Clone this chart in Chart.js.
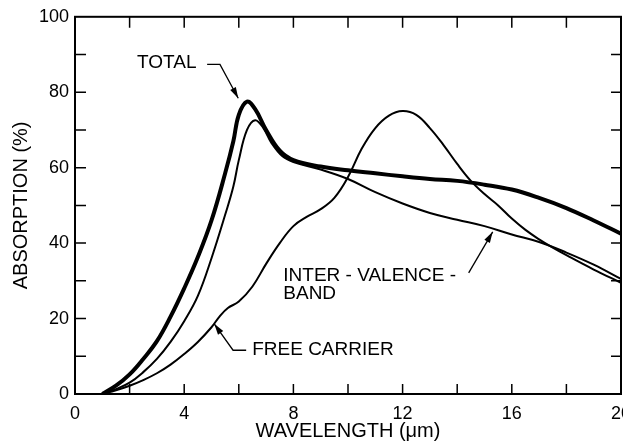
<!DOCTYPE html>
<html>
<head>
<meta charset="utf-8">
<script src="https://cdn.jsdelivr.net/npm/chart.js@4"></script>
<style>
  html, body { margin: 0; padding: 0; background: #fff; }
  #wrap { width: 623px; height: 445px; position: relative; }
</style>
</head>
<body>
<div id="wrap"><canvas id="absChart"></canvas></div>
<script>
// wavelength (um) / absorption (%)
const totalX = [1, 1.5, 2, 2.5, 3, 3.5, 4, 4.5, 5, 5.5, 5.8, 6, 6.3, 6.6, 7, 7.5, 8, 9, 10, 11, 12, 13, 14, 15, 16, 17, 18, 19, 20];
const totalY = [0, 2.2, 5.2, 9.3, 14, 20.5, 28, 36.3, 46, 58.5, 67, 74, 77.5, 75.5, 70, 64.5, 62, 60.3, 59.3, 58.5, 57.7, 57, 56.5, 55.5, 54.2, 52, 49.3, 46, 42.5];

const ivbX = [1, 1.5, 2, 2.5, 3, 3.5, 4, 4.5, 5, 5.5, 5.8, 6, 6.3, 6.6, 6.9, 7.2, 7.6, 8, 9, 10, 11, 12, 13, 14, 15, 16, 17, 18, 19, 20];
const ivbY = [0, 1.3, 3, 5.8, 9.3, 13.8, 19.3, 26, 36, 47.5, 55, 62, 70, 72.6, 70.5, 66.5, 63, 61.5, 59.5, 57, 53.5, 50.5, 48, 46.2, 44.5, 42.3, 40.3, 37.5, 34.3, 30.5];

const fcX = [1, 1.5, 2, 2.5, 3, 3.5, 4, 4.5, 5, 5.3, 5.6, 6, 6.5, 7, 7.5, 8, 8.5, 9, 9.5, 10, 10.5, 11, 11.5, 12, 12.5, 13, 13.5, 14, 14.5, 15, 15.5, 16, 16.5, 17, 17.5, 18, 19, 20];
const fcY = [0, 1.0, 2.2, 3.7, 5.5, 7.8, 10.6, 13.8, 17.7, 20.6, 22.8, 24.5, 28.5, 34.5, 40, 44.5, 47, 49, 52, 57.5, 65, 70.5, 73.8, 75, 74, 70.5, 66, 61, 56.5, 53, 50, 46.5, 43.5, 41, 38.8, 36.8, 33, 29.5];

const xTicks = [0, 4, 8, 12, 16, 20];
const yTicks = [0, 20, 40, 60, 80, 100];

// callout labels, in data units: text lines, text anchor, leader path (last point = arrow tip)
const callouts = [
    { lines: ['TOTAL'], at: [2.27, 87.9], path: [[4.84, 87.4], [5.31, 87.4], [5.98, 78.4]] },
    { lines: ['INTER - VALENCE -', 'BAND'], at: [7.63, 31.3], path: [[14.42, 32.1], [15.3, 43.0]] },
    { lines: ['FREE CARRIER'], at: [6.49, 11.6], path: [[6.27, 11.6], [5.79, 11.6], [5.1, 18.6]] }
];

const FONT = '"Liberation Sans", Arial, Helvetica, sans-serif';

const toPts = (xs, ys) => xs.map((x, i) => ({ x: x, y: ys[i] }));

const frameTicks = {
    id: 'frameTicks',
    afterDatasetsDraw(chart) {
        const c = chart.ctx;
        const xs = chart.scales.x;
        const ys = chart.scales.y;
        const a = chart.chartArea;
        c.save();
        c.strokeStyle = '#000';
        c.lineWidth = 2;
        c.strokeRect(a.left, a.top, a.right - a.left, a.bottom - a.top);

        // inward ticks on all four sides
        c.lineWidth = 1.5;
        c.beginPath();
        for (let v = 2; v < 20; v += 2) {
            const px = xs.getPixelForValue(v);
            c.moveTo(px, a.bottom); c.lineTo(px, a.bottom - 10);
            c.moveTo(px, a.top); c.lineTo(px, a.top + 11);
        }
        for (let v = 10; v < 100; v += 10) {
            const py = ys.getPixelForValue(v);
            c.moveTo(a.left, py); c.lineTo(a.left + 11, py);
            c.moveTo(a.right, py); c.lineTo(a.right - 10, py);
        }
        c.stroke();

        // callouts
        c.fillStyle = '#000';
        c.font = '19px ' + FONT;
        c.textBaseline = 'middle';
        c.textAlign = 'left';
        callouts.forEach(co => {
            const tx = xs.getPixelForValue(co.at[0]);
            const ty = ys.getPixelForValue(co.at[1]);
            co.lines.forEach((t, i) => c.fillText(t, tx, ty + i * 18));

            const pts = co.path.map(p => [xs.getPixelForValue(p[0]), ys.getPixelForValue(p[1])]);
            c.lineWidth = 1.3;
            c.beginPath();
            c.moveTo(pts[0][0], pts[0][1]);
            for (let i = 1; i < pts.length; i++) c.lineTo(pts[i][0], pts[i][1]);
            c.stroke();

            const tip = pts[pts.length - 1];
            const prev = pts[pts.length - 2];
            const ang = Math.atan2(tip[1] - prev[1], tip[0] - prev[0]);
            const len = 11, half = 3.2;
            c.beginPath();
            c.moveTo(tip[0], tip[1]);
            c.lineTo(tip[0] - len * Math.cos(ang) + half * Math.sin(ang), tip[1] - len * Math.sin(ang) - half * Math.cos(ang));
            c.lineTo(tip[0] - len * Math.cos(ang) - half * Math.sin(ang), tip[1] - len * Math.sin(ang) + half * Math.cos(ang));
            c.closePath();
            c.fill();
        });
        c.restore();
    }
};

document.addEventListener('DOMContentLoaded', () => {
    const ctx = document.getElementById('absChart');

    new Chart(ctx, {
        type: 'line',
        data: {
            datasets: [
                {
                    label: 'TOTAL',
                    data: toPts(totalX, totalY),
                    borderColor: '#000',
                    borderWidth: 4,
                    tension: 0.4
                },
                {
                    label: 'INTER-VALENCE-BAND',
                    data: toPts(ivbX, ivbY),
                    borderColor: '#000',
                    borderWidth: 2,
                    tension: 0.4
                },
                {
                    label: 'FREE CARRIER',
                    data: toPts(fcX, fcY),
                    borderColor: '#000',
                    borderWidth: 2,
                    tension: 0.4
                }
            ]
        },
        options: {
            responsive: true,
            maintainAspectRatio: false,
            animation: false,
            layout: { padding: { top: 14, right: 2, left: 0, bottom: 0 } },
            elements: { point: { radius: 0 } },
            scales: {
                x: {
                    type: 'linear',
                    min: 0,
                    max: 20,
                    afterBuildTicks: s => { s.ticks = xTicks.map(v => ({ value: v })); },
                    afterFit: s => { s.height = 51; s.paddingLeft = 0; s.paddingRight = 0; },
                    grid: { display: false, drawTicks: false },
                    border: { display: false },
                    ticks: { color: '#000', padding: 9, maxRotation: 0, font: { family: FONT, size: 18 } },
                    title: {
                        display: true,
                        text: 'WAVELENGTH (\u03bcm)',
                        color: '#000',
                        font: { family: FONT, size: 20 },
                        padding: { top: 0, bottom: 2 }
                    }
                },
                y: {
                    min: 0,
                    max: 100,
                    afterBuildTicks: s => { s.ticks = yTicks.map(v => ({ value: v })); },
                    afterFit: s => { s.width = 75; },
                    grid: { display: false, drawTicks: false },
                    border: { display: false },
                    ticks: { color: '#000', padding: 6, font: { family: FONT, size: 18 } },
                    title: {
                        display: true,
                        text: 'ABSORPTION (%)',
                        color: '#000',
                        font: { family: FONT, size: 20 },
                        padding: { top: 9, bottom: 0 }
                    }
                }
            },
            plugins: {
                legend: { display: false },
                tooltip: { enabled: false }
            }
        },
        plugins: [frameTicks]
    });
});
</script>
</body>
</html>
